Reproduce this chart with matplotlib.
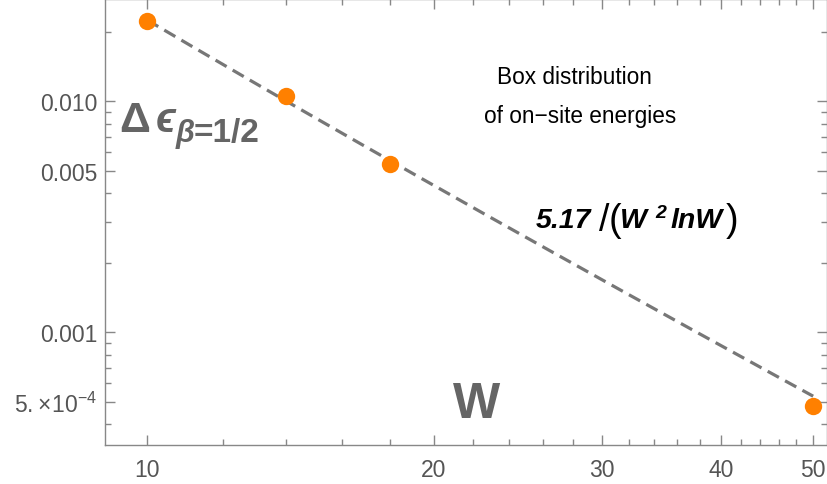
import matplotlib
matplotlib.use("Agg")
import matplotlib.pyplot as plt
import numpy as np

plt.rcParams['font.family'] = ['Liberation Sans', 'DejaVu Sans']
plt.rcParams['mathtext.fontset'] = 'custom'
plt.rcParams['mathtext.rm'] = 'Liberation Sans'
plt.rcParams['mathtext.it'] = 'Liberation Sans:italic'
plt.rcParams['mathtext.bf'] = 'Liberation Sans:bold'

# data
W = [10, 14, 18, 50]
delta_eps = [0.0222, 0.0105, 0.00536, 0.000478]
fit_coef = 5.17          # fit 5.17/(W^2 ln W), as written on the chart
fit_range = [10, 50]

yticks = [0.0005, 0.001, 0.005, 0.010]
ytick_labels = [r'$5.\!\times\!10^{-4}$', '0.001', '0.005', '0.010']
xticks = [10, 20, 30, 40, 50]
xminor = [12, 14, 16, 18, 22, 24, 26, 28, 32, 34, 36, 38, 42, 44, 46, 48]
yminor = [0.0004, 0.0006, 0.0007, 0.0008, 0.0009, 0.002, 0.003, 0.004,
          0.006, 0.007, 0.008, 0.009, 0.02]

fig = plt.figure(figsize=(8.28, 4.85), dpi=100)
ax = fig.add_axes([0.1268, 0.0804, 0.872, 0.9196])

wf = np.linspace(fit_range[0], fit_range[1], 200)
ax.plot(wf, fit_coef / (wf**2 * np.log(wf)), color='#777777', lw=2.3,
        dashes=(4, 2.2), zorder=2)
ax.plot(W, delta_eps, 'o', color='#ff8000', ms=12.5, mec='none', zorder=3)

ax.set_xscale('log')
ax.set_yscale('log')
ax.set_xlim(9.03, 51.7)
ax.set_ylim(0.000325, 0.0277)

ax.set_xticks(xticks)
ax.set_xticklabels([str(t) for t in xticks])
ax.set_xticks(xminor, minor=True)
ax.set_xticklabels([], minor=True)
ax.set_yticks(yticks)
ax.set_yticklabels(ytick_labels)
ax.set_yticks(yminor, minor=True)
ax.set_yticklabels([], minor=True)

ax.tick_params(which='both', direction='in', top=True, right=True,
               color='#888888', width=1, labelsize=16.5, labelcolor='#555555')
ax.tick_params(which='major', length=7)
ax.tick_params(which='minor', length=4.5)
ax.tick_params(axis='y', which='major', pad=5.5)
ax.tick_params(axis='x', which='major', pad=9.5)
for s in ax.spines.values():
    s.set_color('#888888')
    s.set_linewidth(1)


def px(x, y, s, **kw):
    # place text at a pixel position of the 828x485 picture (y from top)
    fig.text(x / 828, 1 - y / 485, s, ha='left', va='baseline', **kw)


grey = '#656565'
fig.text(476.5 / 828, 1 - 418 / 485, 'W', ha='center', va='baseline',
         fontsize=36, fontweight='bold', color=grey)
px(119, 132, '\u0394', fontsize=31, fontweight='bold', color=grey)
px(156, 132, '\u03f5', fontsize=30, fontweight='bold', style='italic', color=grey)
px(176, 142, '\u03b2', fontsize=22, fontweight='bold', style='italic', color=grey)
px(194, 142, '=1/2', fontsize=24, fontweight='bold', color=grey)

fig.text(574.5 / 828, 1 - 84 / 485, 'Box distribution', ha='center',
         va='baseline', fontsize=16.3, color='black')
fig.text(580 / 828, 1 - 122.5 / 485, 'of on\u2212site energies', ha='center',
         va='baseline', fontsize=16.3, color='black')

bi = dict(fontsize=20.5, fontweight='bold', style='italic', color='black')
px(536, 228, '5.17', **bi)
px(599, 231, '/', fontsize=27, color='black')
px(609, 231, '(', fontsize=27, color='black')
px(620, 228, 'W', **bi)
px(655, 218, '2', fontsize=14, fontweight='bold', style='italic', color='black')
px(671, 228, 'lnW', **bi)
px(726, 231, ')', fontsize=27, color='black')

fig.savefig('out.png', dpi=100)
